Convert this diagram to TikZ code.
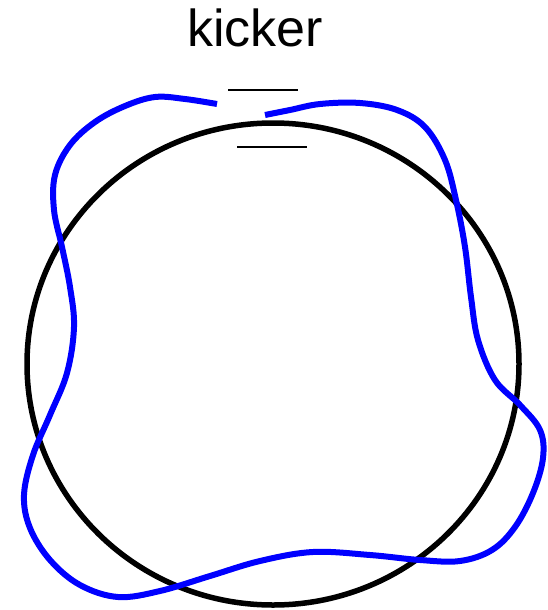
\documentclass[tikz,border=0pt]{standalone}
\usepackage{fontspec}
\setmainfont{Liberation Sans}
\begin{document}
\begin{tikzpicture}[x=1pt,y=-1pt,
  ring/.style={draw=black,line width=5.5pt},
  orbit/.style={draw=blue,line width=6pt},
  kline/.style={draw=black,line width=2pt},
  label/.style={font=\fontsize{52}{60}\selectfont,inner sep=0pt,anchor=base}]
\useasboundingbox (0,0) rectangle (547,610);
\draw[ring] (273,364) ellipse [x radius=246, y radius=241];
\draw[orbit] plot[smooth,tension=0.6] coordinates {
(217,104) (185,99) (155,97) (125,106) (95,122) (70,145) (55,175) (54,210) (62,247) (70,287) (74,327) (67,373) (50,415) (33,455) (24,495) (30,528) (50,560) (80,585) (118,597) (160,591) (210,576) (260,561) (313,552) (370,555) (420,560) (460,561) (492,550) (515,527) (533,493) (543,458) (540,430) (520,405) (495,380) (478,340) (471,297) (465,247) (456,200) (445,160) (425,127) (397,110) (360,103) (320,104) (290,110) (265,115)};
\node[label] (k) at (255,47) {kicker};
\coordinate (a1) at (228,90);
\coordinate (a2) at (298,90);
\coordinate (b1) at (237,147);
\coordinate (b2) at (307,147);
\draw[kline] (a1) -- (a2);
\draw[kline] (b1) -- (b2);
\end{tikzpicture}
\end{document}
